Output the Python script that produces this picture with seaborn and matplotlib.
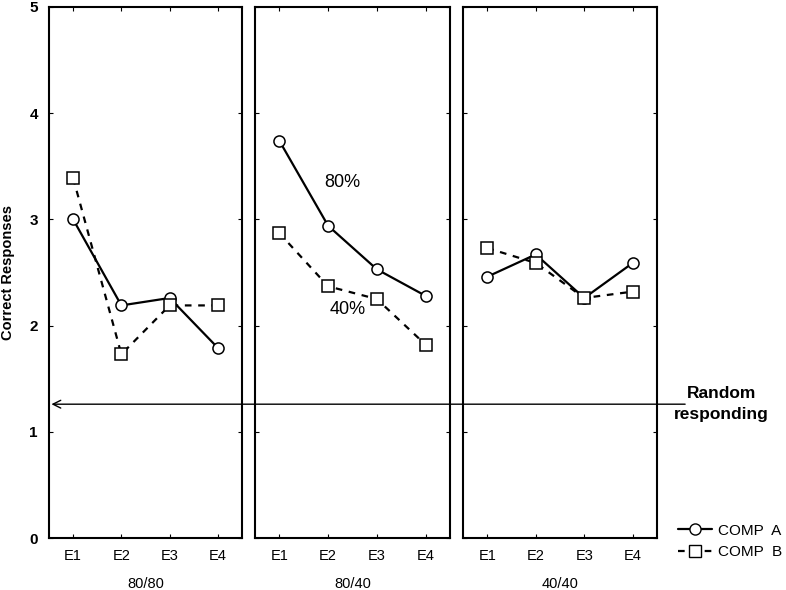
import numpy as np
import pandas as pd
import matplotlib
matplotlib.use("Agg")
import matplotlib.pyplot as plt
from matplotlib.lines import Line2D
import seaborn as sns

## Data
conditions = ["80/80", "80/40", "40/40"]
exposures = ["E1", "E2", "E3", "E4"]
comp_a = {"80/80": [3.00, 2.19, 2.26, 1.79],
          "80/40": [3.74, 2.94, 2.53, 2.28],
          "40/40": [2.46, 2.67, 2.26, 2.59]}
comp_b = {"80/80": [3.39, 1.73, 2.19, 2.19],
          "80/40": [2.87, 2.37, 2.25, 1.82],
          "40/40": [2.73, 2.59, 2.26, 2.32]}
random_level = 1.26

rows = []
for cond in conditions:
    for i, e in enumerate(exposures):
        rows.append([cond, i, e, "A", comp_a[cond][i]])
        rows.append([cond, i, e, "B", comp_b[cond][i]])
df = pd.DataFrame(rows, columns=["cond", "pos", "exp", "comp", "score"])

sns.set_style("ticks", {"axes.edgecolor": "black", "text.color": "black",
                        "xtick.color": "black", "ytick.color": "black",
                        "axes.labelcolor": "black"})
plt.rcParams['font.family'] = ['Liberation Sans', 'DejaVu Sans']

fig = plt.figure(figsize=(7.86, 5.9), dpi=100)
lefts = [49, 255, 463]
widths = [193, 195, 194]
axes = []
for k, cond in enumerate(conditions):
    ax = fig.add_axes([lefts[k] / 786, 1 - 538 / 590, widths[k] / 786, 531 / 590])
    ax.set_facecolor("none")
    sub = df[df.cond == cond]
    sns.lineplot(data=sub, x="pos", y="score", style="comp",
                 markers={"A": "o", "B": "s"}, dashes={"A": "", "B": (3, 3)},
                 color="black", lw=1.6, ms=8, mfc="white", mec="black", mew=1.1,
                 legend=False, ax=ax)
    ax.set_xlim(-0.5, 3.5)
    ax.set_ylim(0, 5)
    ax.set_xticks(range(4))
    ax.set_xticklabels(exposures, fontsize=10.5)
    ax.set_yticks(range(6))
    ax.tick_params(direction="in", length=3, top=True, right=True, width=0.8, pad=8)
    ax.set_xlabel(cond, fontsize=10.5, labelpad=10)
    ax.set_ylabel("")
    if k > 0:
        ax.set_yticklabels([])
    else:
        ax.set_yticklabels([str(v) for v in range(6)], fontsize=11, fontweight="bold")
    for s in ax.spines.values():
        s.set_linewidth(1.5)
    axes.append(ax)

axes[0].set_ylabel("Correct Responses", fontsize=10.5, fontweight="bold", labelpad=10)

# annotations in middle panel
axes[1].text(1.3, 3.35, "80%", fontsize=13, ha="center", va="center")
axes[1].text(1.41, 2.15, "40%", fontsize=13, ha="center", va="center")

# random responding arrow
axes[0].annotate("", xy=(-0.45, random_level), xycoords="data",
                 xytext=(4.08, random_level), textcoords=axes[2].transData,
                 arrowprops=dict(arrowstyle="->", lw=1.0, color="black",
                                 shrinkA=0, shrinkB=0, mutation_scale=14),
                 annotation_clip=False)
fig.text(0.918, 0.315, "Random\nresponding", ha="center", va="center",
         fontsize=12.5, fontweight="bold", linespacing=1.45)

# legend
handles = [Line2D([], [], color="black", lw=1.6, marker="o", ms=8, mfc="white", mec="black"),
           Line2D([], [], color="black", lw=1.6, ls=(0, (3, 3)), marker="s", ms=8, mfc="white", mec="black")]
fig.legend(handles, ["COMP  A", "COMP  B"], loc="center left",
           bbox_to_anchor=(0.845, 0.082), frameon=False, fontsize=11,
           handlelength=2.2, handletextpad=0.4, labelspacing=0.5)

fig.savefig("out.png", dpi=100)
